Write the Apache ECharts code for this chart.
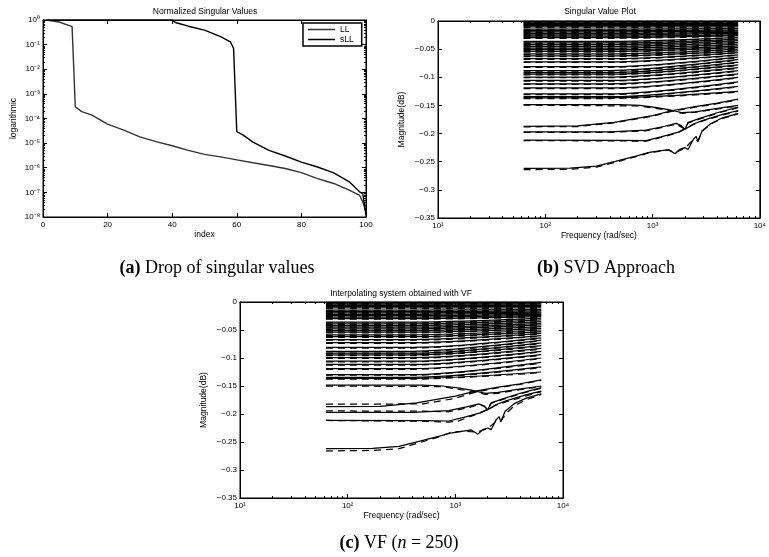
<!DOCTYPE html>
<html>
<head>
<meta charset="utf-8">
<title>Singular values</title>
<script src="https://cdn.jsdelivr.net/npm/echarts@6/dist/echarts.min.js"></script>
<style>
  html, body { margin: 0; padding: 0; background: #fff; }
  #main { width: 769px; height: 557px; }
</style>
</head>
<body>
<div id="main"></div>
<script>
// (a) normalized singular values
const idxLL = [1, 5, 9, 10, 12, 15, 20, 25, 30, 35, 40, 45, 50, 55, 60, 65, 70, 75, 80, 85, 90, 95, 98, 99, 100];
const valLL = [1, 0.83, 0.54, 3.0e-4, 1.9e-4, 1.4e-4, 5.9e-5, 3.4e-5, 1.8e-5, 1.15e-5, 7.8e-6, 5.1e-6, 3.5e-6,
  2.75e-6, 2.1e-6, 1.6e-6, 1.23e-6, 9.3e-7, 6.3e-7, 3.6e-7, 2.3e-7, 1.2e-7, 7.6e-8, 4.1e-8, 1.6e-8];
const idxSLL = [1, 40, 41, 45, 50, 55, 58, 59, 60, 62, 65, 70, 75, 80, 85, 90, 95, 98, 99, 100];
const valSLL = [1, 1, 0.79, 0.56, 0.39, 0.21, 0.13, 0.071, 2.9e-5, 2.1e-5, 1.1e-5, 5.1e-6, 3.0e-6, 1.7e-6,
  1.07e-6, 6.2e-7, 2.6e-7, 1.05e-7, 9.0e-8, 1.2e-8];
const yTicksA = [1e-8, 1e-7, 1e-6, 1e-5, 1e-4, 1e-3, 1e-2, 1e-1, 1];
const freqTicks = [10, 100, 1000, 10000];

// (b)/(c) singular value curves, flat part then rise toward high frequency
const freqFlat = [62.83, 400, 6283];
const flatStart = [0, -0.002, -0.004, -0.006, -0.008, -0.0105, -0.0145, -0.017, -0.0195, -0.022, -0.0245, -0.027,
  -0.0295, -0.036, -0.039, -0.042, -0.045, -0.048, -0.051, -0.054, -0.0585, -0.062, -0.067, -0.0725, -0.081,
  -0.088, -0.0915, -0.0945, -0.0995, -0.1055, -0.1115, -0.119, -0.1295, -0.1345, -0.1365];
const flatEnd = [0, -0.002, -0.004, -0.006, -0.008, -0.0105, -0.0135, -0.016, -0.018, -0.020, -0.022, -0.024,
  -0.026, -0.029, -0.032, -0.035, -0.038, -0.041, -0.044, -0.047, -0.050, -0.053, -0.056, -0.060, -0.064,
  -0.068, -0.073, -0.078, -0.083, -0.088, -0.094, -0.100, -0.108, -0.116, -0.125];
const flatDashStart = [-0.001, -0.003, -0.005, -0.007, -0.009, -0.0117, -0.0157, -0.0182, -0.0207, -0.0232,
  -0.0257, -0.0282, -0.0307, -0.0372, -0.0402, -0.0432, -0.0462, -0.0492, -0.0522, -0.0552, -0.0597, -0.0632,
  -0.0682, -0.0737, -0.0822, -0.0892, -0.0927, -0.0957, -0.1007, -0.1067, -0.1127, -0.1202, -0.1307, -0.1357,
  -0.1377];
const flatDashEnd = [-0.001, -0.003, -0.005, -0.007, -0.009, -0.0117, -0.0147, -0.0172, -0.0192, -0.0212,
  -0.0232, -0.0252, -0.0272, -0.0302, -0.0332, -0.0362, -0.0392, -0.0422, -0.0452, -0.0482, -0.0512, -0.0542,
  -0.0572, -0.0612, -0.0652, -0.0692, -0.0742, -0.0792, -0.0842, -0.0892, -0.0952, -0.1012, -0.1092, -0.1172,
  -0.1262];

// lower curves, [rad/sec, dB]
const low1 = [[62.83, -0.1485], [500, -0.1485], [760, -0.150], [1100, -0.154], [1450, -0.158], [1900, -0.163],
  [2500, -0.1615], [3500, -0.157], [6283, -0.150]];
const low2 = [[62.83, -0.187], [200, -0.1865], [437, -0.180], [1000, -0.168], [1540, -0.159], [2500, -0.152],
  [4000, -0.146], [6283, -0.139]];
const low3 = [[62.83, -0.197], [400, -0.197], [870, -0.194], [1300, -0.187], [1660, -0.182], [1850, -0.186],
  [2000, -0.193], [2150, -0.180], [2760, -0.173], [4000, -0.163], [6283, -0.153]];
const low4 = [[62.83, -0.2115], [500, -0.212], [870, -0.2125], [1200, -0.206], [1700, -0.198], [2100, -0.190],
  [2400, -0.183], [3000, -0.176], [4500, -0.166], [6283, -0.159]];
const low5 = [[62.83, -0.262], [170, -0.2615], [300, -0.258], [450, -0.2495], [700, -0.240], [930, -0.2335],
  [1410, -0.2285], [1620, -0.236], [1800, -0.228], [2000, -0.225], [2150, -0.228], [2400, -0.210],
  [2550, -0.205], [2650, -0.214], [2900, -0.195], [3500, -0.182], [4500, -0.172], [6283, -0.164]];

// dashed (reduced model) in panel b
const lowDashB1 = [[62.83, -0.1495], [760, -0.151], [1450, -0.159], [1900, -0.164], [2500, -0.162],
  [3500, -0.158], [6283, -0.151]];
const lowDashB2 = [[62.83, -0.188], [200, -0.1875], [437, -0.181], [1000, -0.169], [1540, -0.160],
  [2500, -0.153], [4000, -0.147], [6283, -0.140]];
const lowDashB3 = [[62.83, -0.198], [400, -0.198], [870, -0.195], [1300, -0.188], [1660, -0.183],
  [2000, -0.192], [2150, -0.181], [2760, -0.174], [4000, -0.164], [6283, -0.154]];
const lowDashB4 = [[62.83, -0.2125], [500, -0.213], [870, -0.2135], [1200, -0.207], [1700, -0.199],
  [2400, -0.184], [3000, -0.177], [4500, -0.167], [6283, -0.160]];
const lowDashB5 = [[62.83, -0.264], [170, -0.2635], [300, -0.2595], [450, -0.251], [700, -0.241],
  [930, -0.234], [1410, -0.2295], [1620, -0.234], [2000, -0.226], [2400, -0.211], [2650, -0.213],
  [2900, -0.196], [3500, -0.183], [4500, -0.173], [6283, -0.165]];

// dashed (VF model) in panel c
const lowDashC1 = [[62.83, -0.150], [760, -0.151], [1450, -0.160], [1900, -0.165], [2500, -0.163],
  [3500, -0.158], [6283, -0.151]];
const lowDashC2 = [[62.83, -0.1825], [500, -0.182], [1000, -0.172], [1540, -0.161], [2500, -0.153],
  [4000, -0.147], [6283, -0.140]];
const lowDashC3 = [[62.83, -0.1945], [500, -0.195], [870, -0.196], [1300, -0.189], [1660, -0.183],
  [1850, -0.186], [2000, -0.192], [2150, -0.181], [2760, -0.174], [4000, -0.164], [6283, -0.154]];
const lowDashC4 = [[62.83, -0.2115], [500, -0.213], [870, -0.2145], [1050, -0.213], [1500, -0.202],
  [2100, -0.190], [2400, -0.184], [3000, -0.178], [4500, -0.168], [6283, -0.160]];
const lowDashC5 = [[62.83, -0.266], [170, -0.265], [300, -0.262], [450, -0.252], [700, -0.241],
  [930, -0.232], [1200, -0.231], [1600, -0.232], [2000, -0.226], [2400, -0.213], [2650, -0.212],
  [3000, -0.198], [3500, -0.186], [4500, -0.175], [6283, -0.165]];

const FONT = 'Liberation Sans';
const SUP = {'0': '⁰', '1': '¹', '2': '²', '3': '³', '4': '⁴', '5': '⁵', '6': '⁶', '7': '⁷', '8': '⁸', '9': '⁹', '-': '⁻'};

function pow10(v) {
  const e = Math.round(Math.log10(v));
  return '10' + String(e).split('').map(c => SUP[c]).join('');
}

// minor log ticks 2..9 of each decade
function minorTicks(lo, hi) {
  const out = [];
  for (let d = lo; d < hi; d++) {
    for (let m = 2; m <= 9; m++) out.push(m * Math.pow(10, d));
  }
  return out;
}

function axis(o) {
  return Object.assign({
    axisLine: {show: true, onZero: false, lineStyle: {color: '#000', width: 1}},
    axisTick: {show: true, inside: true, length: 4, lineStyle: {color: '#000'}},
    axisLabel: {show: false},
    splitLine: {show: false},
    nameTextStyle: {fontFamily: FONT, fontSize: 8.5, color: '#000'}
  }, o);
}

const labelStyle = {show: true, fontFamily: FONT, fontSize: 8, color: '#000'};

const grids = [
  {left: 43, top: 20, width: 323, height: 197},
  {left: 438, top: 21, width: 324, height: 197},
  {left: 240, top: 302, width: 323, height: 196}
];
grids.forEach(g => { g.show = true; g.borderColor = '#000'; g.borderWidth = 1; });

const logX = (gi, pos, minor, labels) => axis({
  type: 'log', logBase: 10, min: 10, max: 10000, gridIndex: gi, position: pos,
  axisTick: {show: true, inside: true, length: minor ? 2 : 4, lineStyle: {color: '#000'},
    customValues: minor ? minorTicks(1, 4) : freqTicks},
  axisLabel: labels ? Object.assign({}, labelStyle, {margin: 4, customValues: freqTicks, formatter: pow10}) : {show: false},
  name: labels ? 'Frequency (rad/sec)' : '', nameLocation: 'middle', nameGap: 12
});

const magY = (gi, pos, labels) => axis({
  type: 'value', min: -0.35, max: 0, interval: 0.05, gridIndex: gi, position: pos,
  axisLabel: labels ? Object.assign({}, labelStyle, {margin: 3,
    formatter: v => v === 0 ? '0' : String(+v.toFixed(2)).replace('-', '−')}) : {show: false},
  name: labels ? 'Magnitude(dB)' : '', nameLocation: 'middle', nameGap: 32
});

const xAxes = [
  axis({type: 'value', min: 0, max: 100, interval: 20, gridIndex: 0, position: 'bottom',
    axisLabel: Object.assign({}, labelStyle, {margin: 4}), name: 'index', nameLocation: 'middle', nameGap: 12}),
  axis({type: 'value', min: 0, max: 100, interval: 20, gridIndex: 0, position: 'top'}),
  logX(1, 'bottom', false, true), logX(1, 'top', false, false), logX(1, 'bottom', true, false), logX(1, 'top', true, false),
  logX(2, 'bottom', false, true), logX(2, 'top', false, false), logX(2, 'bottom', true, false), logX(2, 'top', true, false)
];

const logA = (pos, minor, labels) => axis({
  type: 'log', logBase: 10, min: 1e-8, max: 1, gridIndex: 0, position: pos,
  axisTick: {show: true, inside: true, length: minor ? 2 : 4, lineStyle: {color: '#000'},
    customValues: minor ? minorTicks(-8, 0) : yTicksA},
  axisLabel: labels ? Object.assign({}, labelStyle, {margin: 3, customValues: yTicksA, formatter: pow10}) : {show: false},
  name: labels ? 'logarithmic' : '', nameLocation: 'middle', nameGap: 25
});

const yAxes = [
  logA('left', false, true), logA('right', false, false), logA('left', true, false), logA('right', true, false),
  magY(1, 'left', true), magY(1, 'right', false),
  magY(2, 'left', true), magY(2, 'right', false)
];

function line(data, xi, yi, dashed, smooth) {
  return {
    type: 'line', data: data, xAxisIndex: xi, yAxisIndex: yi, symbol: 'none', silent: true,
    smooth: smooth ? 0.3 : false, smoothMonotone: 'x',
    itemStyle: {color: '#000'},
    lineStyle: {color: '#000', width: 1.25, type: dashed ? [7, 5] : 'solid'},
    z: dashed ? 3 : 2
  };
}

const series = [
  Object.assign(line(idxLL.map((x, i) => [x, valLL[i]]), 0, 0, false), {name: 'LL',
    itemStyle: {color: '#333'}, lineStyle: {color: '#333', width: 1.4}}),
  Object.assign(line(idxSLL.map((x, i) => [x, valSLL[i]]), 0, 0, false), {name: 'sLL',
    itemStyle: {color: '#000'}, lineStyle: {color: '#000', width: 1.4}})
];

const lowSolid = [low1, low2, low3, low4, low5];
const lowDash = [[lowDashB1, lowDashB2, lowDashB3, lowDashB4, lowDashB5], [lowDashC1, lowDashC2, lowDashC3, lowDashC4, lowDashC5]];
[[2, 4], [6, 6]].forEach(([xi, yi], p) => {
  flatStart.forEach((s, i) => {
    series.push(line(freqFlat.map((w, k) => [w, k < 2 ? s : flatEnd[i]]), xi, yi, false, true));
    series.push(line(freqFlat.map((w, k) => [w, k < 2 ? flatDashStart[i] : flatDashEnd[i]]), xi, yi, true, true));
  });
  lowSolid.forEach(c => series.push(line(c, xi, yi, false)));
  lowDash[p].forEach(c => series.push(line(c, xi, yi, true)));
});

const txt = (x, y, text, size, family, rich) => ({
  type: 'text', x: x, y: y, silent: true,
  style: {text: text, fontSize: size, fontFamily: family, fill: '#000', align: 'center', verticalAlign: 'middle', rich: rich}
});
const serif = 'Liberation Serif';
const capRich = {
  b: {fontSize: 18, fontFamily: serif, fontWeight: 'bold', fill: '#000'},
  i: {fontSize: 18, fontFamily: serif, fontStyle: 'italic', fill: '#000'},
  t: {fontSize: 18, fontFamily: serif, fill: '#000'}
};

const option = {
  animation: false,
  backgroundColor: '#fff',
  grid: grids,
  xAxis: xAxes,
  yAxis: yAxes,
  legend: {
    data: [{name: 'LL', icon: 'rect'}, {name: 'sLL', icon: 'rect'}], orient: 'vertical', left: 303, top: 23,
    itemWidth: 27, itemHeight: 1.5, itemGap: 1, padding: [2, 8, 2, 5],
    borderColor: '#000', borderWidth: 1.5, backgroundColor: '#fff',
    textStyle: {fontFamily: FONT, fontSize: 8.5, lineHeight: 9, color: '#000'}
  },
  graphic: [
    txt(205, 11.5, 'Normalized Singular Values', 8.5, FONT),
    txt(600, 11.5, 'Singular Value Plot', 8.5, FONT),
    txt(401, 294, 'Interpolating system obtained with VF', 8.5, FONT),
    txt(217, 268, '{b|(a)}{t| Drop of singular values}', 18, serif, capRich),
    txt(606, 268, '{b|(b)}{t| SVD Approach}', 18, serif, capRich),
    txt(399, 543, '{b|(c)}{t| VF (}{i|n}{t| = 250)}', 18, serif, capRich)
  ],
  series: series
};

const chart = echarts.init(document.getElementById('main'));
chart.setOption(option);
</script>
</body>
</html>
